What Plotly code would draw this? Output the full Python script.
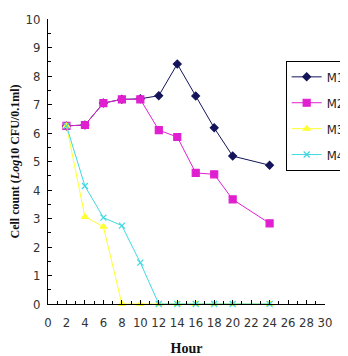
import plotly.graph_objects as go

hours = [2, 4, 6, 8, 10, 12, 14, 16, 18, 20, 24]
m1 = [6.25, 6.28, 7.05, 7.18, 7.2, 7.31, 8.42, 7.3, 6.18, 5.19, 4.87]
m2 = [6.25, 6.28, 7.05, 7.18, 7.18, 6.1, 5.86, 4.6, 4.55, 3.67, 2.83]
m3 = [6.25, 3.06, 2.71, 0, 0, 0, 0, 0, 0, 0, 0]
m4 = [6.25, 4.14, 3.03, 2.75, 1.45, 0, 0, 0, 0, 0, 0]
names = ["M1", "M2", "M3", "M4"]
colors = ["#14145a", "#e020d0", "#ffff30", "#40d8e0"]
symbols = ["diamond", "square", "triangle-up", "x-thin"]
sizes = [6, 7, 6, 6]

fig = go.Figure()
for i, ys in enumerate([m1, m2, m3, m4]):
    fig.add_trace(go.Scatter(
        x=hours, y=ys, name=names[i], mode="lines+markers",
        legendgroup=names[i],
        line=dict(color=colors[i], width=1),
        marker=dict(symbol=symbols[i], size=sizes[i], color=colors[i],
                    line=dict(color=colors[i], width=1.2)),
        cliponaxis=False,
    ))

tickfont = dict(family="Liberation Sans Narrow, Arial Narrow, DejaVu Sans Condensed, sans-serif",
                size=13, color="#333333")
fig.update_layout(
    width=340, height=348,
    margin=dict(l=40, r=23, t=11, b=52, autoexpand=False),
    paper_bgcolor="white", plot_bgcolor="white",
    showlegend=True,
    legend=dict(x=0.858, y=0.853, xanchor="left", yanchor="top",
                bordercolor="black", borderwidth=1, bgcolor="white",
                font=dict(family="Liberation Sans Narrow, Arial Narrow, DejaVu Sans Condensed, sans-serif",
                          size=13, color="#222222"),
                tracegroupgap=6, traceorder="grouped"),
    xaxis=dict(range=[0, 30], dtick=2, tick0=0, showgrid=False, zeroline=False,
               showline=True, linecolor="black", linewidth=1,
               ticks="inside", ticklen=4, tickcolor="black",
               minor=dict(dtick=1, ticks="inside", ticklen=3, tickcolor="black"),
               tickfont=tickfont, ticklabelstandoff=6,
               title=dict(text="<b>Hour</b>", standoff=15,
                          font=dict(family="Liberation Serif, Times New Roman, serif", size=14, color="#111111"))),
    yaxis=dict(range=[0, 10], dtick=1, tick0=0, showgrid=False, zeroline=False,
               showline=True, linecolor="black", linewidth=1,
               ticks="inside", ticklen=4, tickcolor="black",
               minor=dict(dtick=0.5, ticks="inside", ticklen=3, tickcolor="black"),
               tickfont=tickfont, ticklabelstandoff=4,
               title=dict(text="<b>Cell count (<i>Log</i>10 CFU/0.1ml)</b>", standoff=4,
                          font=dict(family="Liberation Serif, Times New Roman, serif", size=12, color="#111111"))),
)
fig.write_html("out.html")
